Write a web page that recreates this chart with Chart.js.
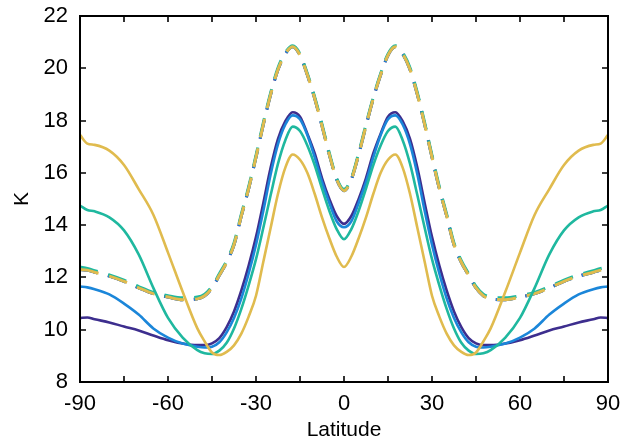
<!DOCTYPE html>
<html>
<head>
<meta charset="utf-8">
<script src="https://cdn.jsdelivr.net/npm/chart.js@4.4.0/dist/chart.umd.min.js"></script>
<style>
  html, body { margin: 0; padding: 0; background: #fff; }
  #wrap { width: 631px; height: 443px; }
</style>
</head>
<body>
<div id="wrap"><canvas id="chart" width="631" height="443"></canvas></div>
<script>
  const lats = [-90, -87.5, -85, -80, -75, -70, -65, -60, -55, -50, -47.5, -45, -42.5, -40, -37.5, -35, -32.5, -30,
    -27.5, -25, -22.5, -20, -17.5, -15, -12.5, -10, -7.5, -5, -2.5, 0,
    2.5, 5, 7.5, 10, 12.5, 15, 17.5, 20, 22.5, 25, 27.5, 30, 32.5, 35, 37.5, 40, 42.5, 45, 47.5, 50,
    55, 60, 65, 70, 75, 80, 85, 87.5, 90];

  const purple = [10.45, 10.47, 10.4, 10.28, 10.12, 9.97, 9.78, 9.6, 9.47, 9.41, 9.41, 9.48, 9.68, 10.1, 10.7, 11.5, 12.45, 13.55,
    14.85, 16.2, 17.3, 17.98, 18.32, 18.15, 17.5, 16.75, 15.8, 15.0, 14.35, 14.05,
    14.35, 15.0, 15.8, 16.75, 17.5, 18.15, 18.32, 17.98, 17.3, 16.2, 14.85, 13.55, 12.45, 11.5, 10.7, 10.1, 9.68, 9.48, 9.41, 9.41,
    9.47, 9.6, 9.78, 9.97, 10.12, 10.28, 10.4, 10.47, 10.45];

  const blue = [11.65, 11.62, 11.55, 11.35, 11.0, 10.58, 10.05, 9.7, 9.47, 9.35, 9.32, 9.35, 9.52, 9.9, 10.45, 11.2, 12.15, 13.25,
    14.55, 15.95, 17.1, 17.85, 18.2, 18.05, 17.45, 16.6, 15.65, 14.85, 14.15, 13.92,
    14.15, 14.85, 15.65, 16.6, 17.45, 18.05, 18.2, 17.85, 17.1, 15.95, 14.55, 13.25, 12.15, 11.2, 10.45, 9.9, 9.52, 9.35, 9.32, 9.35,
    9.47, 9.7, 10.05, 10.58, 11.0, 11.35, 11.55, 11.62, 11.65];

  const teal = [14.75, 14.58, 14.53, 14.3, 13.8, 12.88, 11.6, 10.45, 9.7, 9.22, 9.1, 9.07, 9.2, 9.5, 10.05, 10.8, 11.7, 12.7,
    13.9, 15.15, 16.35, 17.25, 17.77, 17.6, 17.05, 16.3, 15.4, 14.55, 13.85, 13.46,
    13.85, 14.55, 15.4, 16.3, 17.05, 17.6, 17.77, 17.25, 16.35, 15.15, 13.9, 12.7, 11.7, 10.8, 10.05, 9.5, 9.2, 9.07, 9.1, 9.22,
    9.7, 10.45, 11.6, 12.88, 13.8, 14.3, 14.53, 14.58, 14.75];

  const yellow = [17.45, 17.12, 17.07, 16.85, 16.3, 15.38, 14.4, 12.95, 11.45, 10.05, 9.55, 9.13, 9.03, 9.15, 9.4, 9.85, 10.5, 11.3,
    12.6, 13.9, 15.2, 16.2, 16.7, 16.5, 16.0, 15.2, 14.3, 13.5, 12.8, 12.4,
    12.8, 13.5, 14.3, 15.2, 16.0, 16.5, 16.7, 16.2, 15.2, 13.9, 12.6, 11.3, 10.5, 9.85, 9.4, 9.15, 9.03, 9.13, 9.55, 10.05,
    11.45, 12.95, 14.4, 15.38, 16.3, 16.85, 17.07, 17.12, 17.45];

  const dashed = [12.3, 12.28, 12.2, 12.05, 11.85, 11.6, 11.38, 11.25, 11.15, 11.18, 11.3, 11.6, 12.08, 12.58, 13.25, 14.35, 15.4, 16.6,
    17.85, 19.0, 19.95, 20.55, 20.82, 20.5, 19.75, 18.85, 17.8, 16.7, 15.75, 15.32,
    15.75, 16.7, 17.8, 18.85, 19.75, 20.5, 20.82, 20.55, 19.95, 19.0, 17.85, 16.6, 15.4, 14.35, 13.25, 12.58, 12.08, 11.6, 11.3, 11.18,
    11.15, 11.25, 11.38, 11.6, 11.85, 12.05, 12.2, 12.28, 12.3];

  const dashedTeal = [12.4, 12.34, 12.26, 12.1, 11.9, 11.65, 11.43, 11.3, 11.22, 11.25, 11.36, 11.66, 12.14, 12.64, 13.32, 14.42, 15.47, 16.67,
    17.92, 19.07, 20.02, 20.6, 20.86, 20.55, 19.8, 18.9, 17.86, 16.76, 15.8, 15.37,
    15.8, 16.76, 17.86, 18.9, 19.8, 20.55, 20.86, 20.6, 20.02, 19.07, 17.92, 16.67, 15.47, 14.42, 13.32, 12.64, 12.14, 11.66, 11.36, 11.25,
    11.22, 11.3, 11.43, 11.65, 11.9, 12.1, 12.26, 12.34, 12.4];

  const xTicks = { min: -90, max: 90, step: 15, labelStep: 30 };
  const yTicks = { min: 8, max: 22, step: 2 };

  const colors = { purple: "#3d2e8e", blue: "#1b86d9", teal: "#1fb89f", yellow: "#e0bb4e" };
  const FONT = "'Liberation Sans', Arial, Helvetica, sans-serif";

  function pts(values) {
    return values.map((v, i) => ({ x: lats[i], y: v }));
  }

  function solid(label, values, color) {
    return {
      label: label,
      data: pts(values),
      borderColor: color,
      borderWidth: 2.6,
      pointRadius: 0,
      cubicInterpolationMode: "monotone",
      fill: false,
    };
  }

  function dash(label, values, color, offset) {
    return {
      label: label,
      data: pts(values),
      borderColor: color,
      borderWidth: 3,
      borderDash: [19, 11],
      borderDashOffset: offset,
      pointRadius: 0,
      cubicInterpolationMode: "monotone",
      fill: false,
    };
  }

  // box round the plot, with inward ticks on all four sides
  const frame = {
    id: "frame",
    afterDraw(chart) {
      const { ctx, chartArea: a, scales } = chart;
      const x = scales.x;
      const y = scales.y;
      ctx.save();
      ctx.strokeStyle = "#000";
      ctx.lineWidth = 1.6;
      ctx.beginPath();
      x.ticks.forEach((t) => {
        const px = Math.round(x.getPixelForValue(t.value));
        ctx.moveTo(px, a.bottom);
        ctx.lineTo(px, a.bottom - 6);
        ctx.moveTo(px, a.top);
        ctx.lineTo(px, a.top + 6);
      });
      y.ticks.forEach((t) => {
        const py = Math.round(y.getPixelForValue(t.value));
        ctx.moveTo(a.left, py);
        ctx.lineTo(a.left + 6, py);
        ctx.moveTo(a.right, py);
        ctx.lineTo(a.right - 6, py);
      });
      ctx.stroke();
      ctx.lineWidth = 2;
      ctx.strokeRect(a.left, a.top, a.right - a.left, a.bottom - a.top);
      ctx.restore();
    },
  };

  // Chart.js draws the first dataset on top, so yellow comes first
  new Chart(document.getElementById("chart"), {
    type: "line",
    data: {
      datasets: [
        solid("4", yellow, colors.yellow),
        solid("3", teal, colors.teal),
        solid("2", blue, colors.blue),
        solid("1", purple, colors.purple),
        dash("dashed 4", dashed, colors.yellow, 0),
        dash("dashed 3", dashedTeal, colors.teal, 0.8),
        dash("dashed 2", dashed, colors.blue, 1.1),
        dash("dashed 1", dashed, colors.purple, 1.4),
      ],
    },
    options: {
      responsive: false,
      animation: false,
      layout: { padding: { left: 0, right: 23, top: 16, bottom: 0 } },
      plugins: { legend: { display: false }, tooltip: { enabled: false } },
      scales: {
        x: {
          type: "linear",
          min: xTicks.min,
          max: xTicks.max,
          grid: { display: false, drawTicks: false },
          border: { display: false },
          afterFit: (s) => {
            s.height = 61;
            s.paddingLeft = 0;
            s.paddingRight = 0;
          },
          ticks: {
            stepSize: xTicks.step,
            autoSkip: false,
            maxRotation: 0,
            padding: 9,
            color: "#000",
            font: { family: FONT, size: 22 },
            callback: (v) => (v % xTicks.labelStep === 0 ? String(v) : ""),
          },
          title: {
            display: true,
            text: "Latitude",
            color: "#000",
            font: { family: FONT, size: 21 },
            padding: { top: 4, bottom: 0 },
          },
        },
        y: {
          min: yTicks.min,
          max: yTicks.max,
          grid: { display: false, drawTicks: false },
          border: { display: false },
          afterFit: (s) => {
            s.width = 80;
            s.paddingTop = 0;
            s.paddingBottom = 0;
          },
          ticks: {
            stepSize: yTicks.step,
            padding: 12,
            color: "#000",
            font: { family: FONT, size: 22 },
          },
          title: {
            display: true,
            text: "K",
            color: "#000",
            font: { family: FONT, size: 21 },
            padding: { top: 10, bottom: 0 },
          },
        },
      },
    },
    plugins: [frame],
  });
</script>
</body>
</html>
